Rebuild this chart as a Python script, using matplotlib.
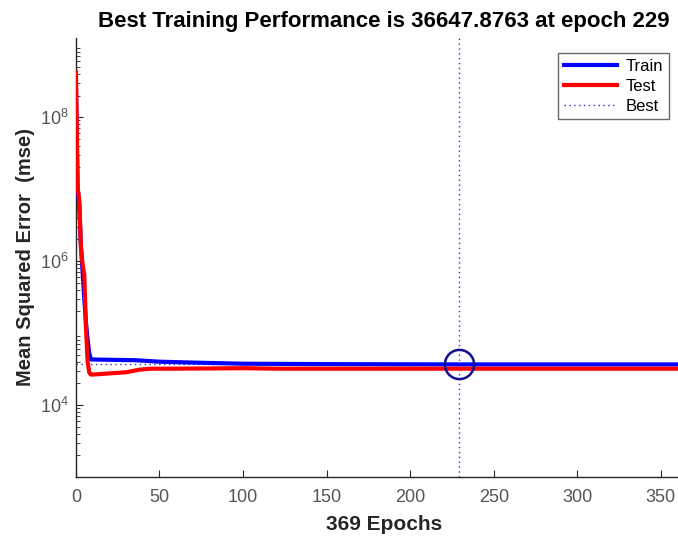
import matplotlib.pyplot as plt
from matplotlib.ticker import LogLocator, NullFormatter

plt.rcParams["font.family"] = ["Liberation Sans", "DejaVu Sans"]

# performance values
train_epochs = [0, 1, 2, 3, 4, 5, 6, 7, 8, 9, 20, 35, 50, 68, 100, 150, 229, 300, 369]
train_mse = [3.0e8, 1.0e7, 6.0e6, 1.6e6, 7.0e5, 3.0e5, 1.4e5, 8.0e4, 5.2e4, 4.3e4,
             4.25e4, 4.2e4, 4.0e4, 3.9e4, 3.75e4, 3.7e4, 36647.8763, 36640, 36630]

test_epochs = [0, 1, 2, 3, 4, 5, 6, 7, 8, 9, 10, 15, 20, 30, 38, 45, 60, 100, 120, 200, 300, 369]
test_mse = [4.2e8, 1.05e7, 7.0e6, 1.5e6, 9.0e5, 6.5e5, 1.2e5, 4.0e4, 2.8e4, 2.65e4,
            2.65e4, 2.7e4, 2.75e4, 2.85e4, 3.1e4, 3.2e4, 3.2e4, 3.25e4, 3.2e4, 3.2e4, 3.2e4, 3.2e4]

best_epoch = 229
best_perf = 36647.8763
n_epochs = 369

fig = plt.figure(figsize=(6.78, 5.38), dpi=100)
ax = fig.add_axes([0.112, 0.1134, 0.9095, 0.816])

ax.semilogy(train_epochs, train_mse, color="#0000ff", lw=3, label="Train", zorder=3)
ax.semilogy(test_epochs, test_mse, color="#ff0000", lw=3, label="Test", zorder=3)
ax.axvline(best_epoch, color="#3030e0", lw=1, ls=(0, (1, 2.5)), label="Best", zorder=2)
ax.axhline(best_perf, color="#3030e0", lw=1, ls=(0, (1, 2.5)), zorder=2)
ax.plot([best_epoch], [best_perf], "o", ms=21, mfc="none", mec="#101090", mew=1.8, zorder=4)

ax.set_xlim(0, n_epochs)
ax.set_ylim(1e3, 1.26e9)
ax.set_xticks(range(0, 351, 50))
ax.set_yticks([1e4, 1e6, 1e8])
ax.yaxis.set_minor_locator(LogLocator(base=10, subs=range(2, 10), numticks=20))
ax.yaxis.set_minor_formatter(NullFormatter())

for side in ["top", "right"]:
    ax.spines[side].set_visible(False)
for side in ["left", "bottom"]:
    ax.spines[side].set_color("#262626")
    ax.spines[side].set_linewidth(1.0)

ax.tick_params(which="both", direction="in", colors="#262626", labelcolor="#555555",
               labelsize=13)
ax.tick_params(which="major", length=5)
ax.tick_params(which="minor", length=3)
ax.tick_params(axis="x", pad=9)
ax.tick_params(axis="y", pad=5)

ax.set_title(f"Best Training Performance is {best_perf:.4f} at epoch {best_epoch}",
             fontsize=16, fontweight="bold", pad=8)
ax.set_xlabel(f"{n_epochs} Epochs", fontsize=15, fontweight="bold", color="#262626",
              labelpad=6)
ax.set_ylabel("Mean Squared Error  (mse)", fontsize=14.5, fontweight="bold", color="#262626",
              labelpad=4)

leg = ax.legend(loc="upper right", bbox_to_anchor=(0.986, 0.902),
                bbox_transform=fig.transFigure, fontsize=12,
                frameon=True, fancybox=False, handlelength=3.2, borderpad=0.35,
                labelspacing=0.3, handletextpad=0.5, borderaxespad=0)
leg.get_frame().set_edgecolor("#444444")
leg.get_frame().set_linewidth(1.0)

fig.savefig("out.png", dpi=100)
